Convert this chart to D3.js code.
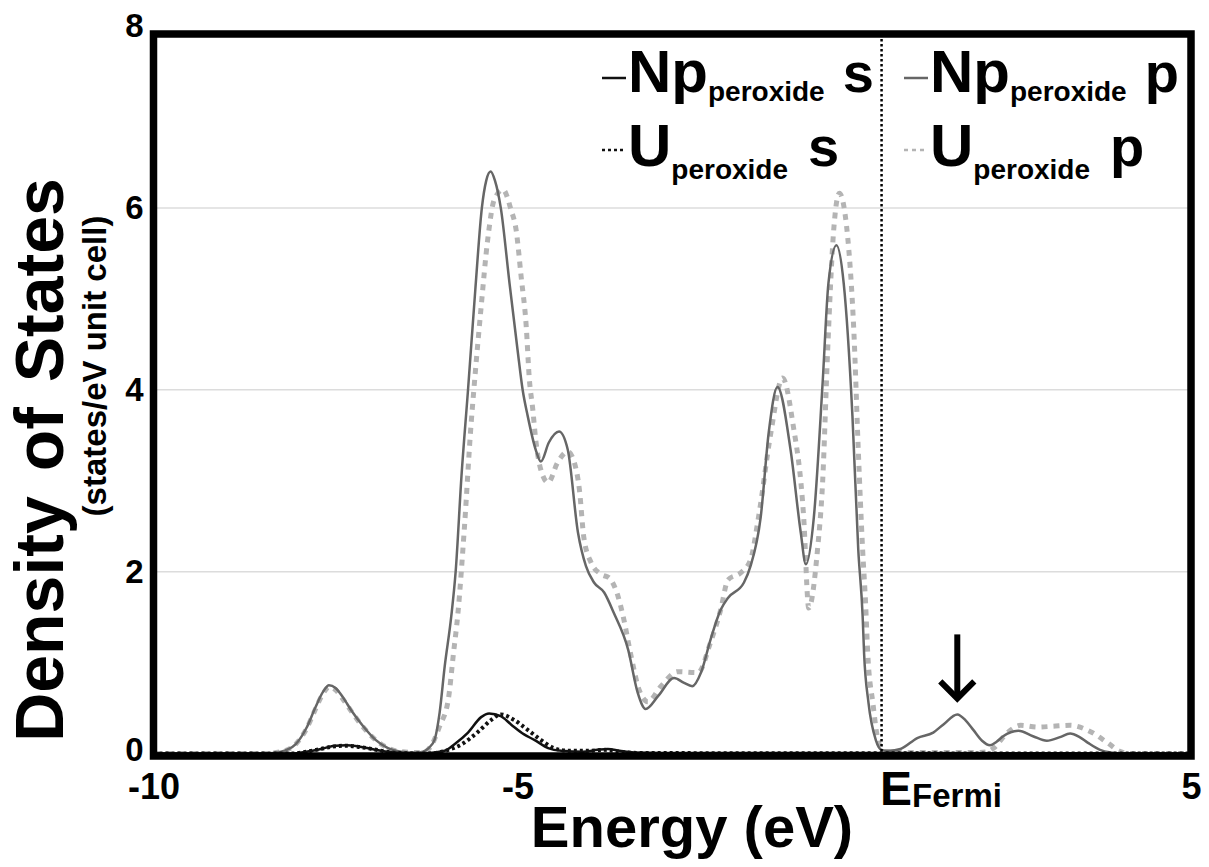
<!DOCTYPE html>
<html><head><meta charset="utf-8">
<script src="https://cdn.jsdelivr.net/npm/d3@7"></script>
<style>
body{margin:0;background:#fff}
text{font-family:"Liberation Sans",Arial,Helvetica,sans-serif;font-weight:bold;fill:#000}
</style>
</head><body>
<svg id="chart" width="1209" height="867"></svg>
<script>
// ---- data ----
const npPEnergy=[-10,-8.45,-8.25,-8.05,-7.9,-7.78,-7.67,-7.59,-7.5,-7.4,-7.28,-7.12,-6.95,-6.78,-6.6,-6.4,-6.3,-6.22,-6.14,-6.07,-6.0,-5.91,-5.85,-5.77,-5.68,-5.58,-5.49,-5.43,-5.37,-5.31,-5.23,-5.11,-5.0,-4.93,-4.86,-4.75,-4.68,-4.57,-4.43,-4.31,-4.17,-4.06,-3.95,-3.81,-3.68,-3.48,-3.35,-3.24,-3.07,-2.85,-2.72,-2.6,-2.48,-2.35,-2.21,-2.11,-1.89,-1.8,-1.66,-1.55,-1.43,-1.25,-1.11,-1.04,-0.93,-0.81,-0.73,-0.62,-0.52,-0.40,-0.32,-0.26,-0.24,-0.18,-0.08,0,0.1,0.26,0.49,0.71,0.85,1.04,1.16,1.26,1.38,1.49,1.58,1.67,1.88,2.08,2.27,2.45,2.59,2.72,2.83,3.0,3.15,3.3,4.25];
const npPDos=[0,0,0.02,0.1,0.28,0.5,0.68,0.75,0.72,0.62,0.47,0.3,0.15,0.06,0.02,0.01,0.02,0.06,0.15,0.45,0.96,1.51,2.0,3.05,4.0,5.1,6.0,6.3,6.4,6.3,6.0,5.17,4.44,4.0,3.71,3.34,3.21,3.42,3.54,3.34,2.43,2.06,1.88,1.77,1.55,1.14,0.67,0.49,0.63,0.83,0.78,0.74,0.89,1.25,1.58,1.71,1.88,2.06,2.6,3.53,4.03,3.34,2.43,2.08,2.6,4.07,5.17,5.59,5.17,3.71,2.24,1.51,1.1,0.56,0.15,0.04,0.03,0.05,0.17,0.23,0.32,0.43,0.36,0.26,0.14,0.09,0.13,0.19,0.25,0.19,0.14,0.18,0.22,0.18,0.12,0.04,0.01,0,0];

const uPEnergy=[-10,-8.45,-8.25,-8.05,-7.9,-7.78,-7.67,-7.59,-7.5,-7.4,-7.28,-7.12,-6.95,-6.78,-6.6,-6.4,-6.27,-6.19,-6.07,-5.95,-5.88,-5.82,-5.73,-5.64,-5.6,-5.5,-5.41,-5.32,-5.2,-5.09,-5.02,-4.95,-4.88,-4.84,-4.79,-4.75,-4.68,-4.58,-4.45,-4.31,-4.22,-4.15,-4.09,-3.99,-3.85,-3.74,-3.62,-3.55,-3.44,-3.33,-3.21,-3.03,-2.8,-2.52,-2.35,-2.21,-2.11,-1.93,-1.8,-1.69,-1.52,-1.36,-1.22,-1.07,-1.0,-0.88,-0.81,-0.74,-0.66,-0.58,-0.45,-0.38,-0.32,-0.26,-0.22,-0.19,-0.12,-0.04,0.05,0.5,1.3,1.45,1.54,1.73,1.91,2.14,2.36,2.59,2.87,3.1,3.28,3.4,4.25];
const uPDos=[0,0,0.02,0.1,0.27,0.48,0.66,0.73,0.7,0.6,0.46,0.29,0.15,0.06,0.02,0.01,0.02,0.08,0.3,0.6,1.1,1.53,2.48,3.6,4.0,4.91,5.65,6.09,6.2,5.98,5.76,5.24,4.69,4.14,3.78,3.45,3.12,2.98,3.2,3.32,3.2,2.9,2.38,2.1,1.97,1.93,1.73,1.51,1.07,0.7,0.57,0.74,0.9,0.89,1.22,1.58,1.91,1.99,2.13,2.6,3.53,4.13,3.64,2.6,1.6,2.24,2.98,4.44,5.73,6.16,5.54,4.63,3.34,2.24,1.66,1.1,0.56,0.12,0.02,0.01,0.01,0.02,0.06,0.23,0.31,0.29,0.3,0.31,0.24,0.12,0.02,0,0];

const npSEnergy=[-10,-8.1,-7.9,-7.7,-7.5,-7.35,-7.2,-7.0,-6.8,-6.6,-6.3,-6.15,-6.0,-5.87,-5.68,-5.5,-5.39,-5.23,-5.09,-4.91,-4.77,-4.58,-4.4,-4.1,-3.9,-3.76,-3.6,-3.4,-3.0,0,4.25];
const npSDos=[0,0,0.02,0.05,0.085,0.09,0.08,0.05,0.02,0.005,0,0.01,0.03,0.1,0.23,0.4,0.44,0.41,0.32,0.21,0.15,0.06,0.03,0.02,0.04,0.05,0.03,0.01,0.005,0.005,0];

const uSEnergy=[-10,-8.1,-7.9,-7.7,-7.5,-7.35,-7.2,-7.0,-6.8,-6.6,-6.3,-6.1,-5.95,-5.77,-5.54,-5.36,-5.23,-5.05,-4.86,-4.68,-4.5,-4.3,-4.0,-3.8,-3.6,-3.3,4.25];
const uSDos=[0,0,0.02,0.05,0.08,0.085,0.075,0.05,0.02,0.005,0,0.01,0.04,0.1,0.24,0.37,0.43,0.37,0.26,0.15,0.06,0.03,0.03,0.04,0.02,0.005,0];

const yTickValues=[0,2,4,6,8];
const xTickValues=[-10,-5,0,4.25];
const xTickLabels=["-10","-5","E","5"];
const fermiSub="Fermi";
const legendMain=["Np","U","Np","U"];
const legendSub=["peroxide","peroxide","peroxide","peroxide"];
const legendOrb=["s","s","p","p"];
const arrowEnergy=1.04, arrowDos=0.43;

// ---- layout ----
const svg=d3.select("#chart");
const L=153.5,R=1191,T=34,B=756;
const x=d3.scaleLinear().domain([-10,4.25]).range([L,R]);
const y=d3.scaleLinear().domain([0,8]).range([753.5,26]);

// gridlines
svg.append("g").selectAll("line").data([2,4,6]).join("line")
  .attr("x1",L).attr("x2",R).attr("y1",d=>y(d)).attr("y2",d=>y(d))
  .attr("stroke","#dcdcdc").attr("stroke-width",1.5);

const line=d3.line().x(d=>x(d[0])).y(d=>y(d[1])).curve(d3.curveMonotoneX);
const zip=(a,b)=>a.map((v,i)=>[v,b[i]]);

const series=[
  {e:uPEnergy,d:uPDos,color:"#b4b4b4",w:5,dash:"6,6"},
  {e:npPEnergy,d:npPDos,color:"#666",w:2.5,dash:null},
  {e:uSEnergy,d:uSDos,color:"#111",w:4,dash:"3,3"},
  {e:npSEnergy,d:npSDos,color:"#111",w:2.5,dash:null}
];
series.forEach(s=>{
  svg.append("path").datum(zip(s.e,s.d)).attr("d",line)
    .attr("fill","none").attr("stroke",s.color).attr("stroke-width",s.w)
    .attr("stroke-dasharray",s.dash);
});

// Fermi level
svg.append("line").attr("x1",x(0)).attr("x2",x(0)).attr("y1",T).attr("y2",B)
  .attr("stroke","#000").attr("stroke-width",2.5).attr("stroke-dasharray","2.5,2.5");

// frame
svg.append("rect").attr("x",L).attr("y",T).attr("width",R-L).attr("height",B-T)
  .attr("fill","none").attr("stroke","#000").attr("stroke-width",7.5);

// y axis
const yAxis=d3.axisLeft(y).tickValues(yTickValues).tickSize(0).tickPadding(10).tickFormat(d3.format("d"));
const gy=svg.append("g").attr("transform",`translate(${L},0)`).call(yAxis);
gy.select(".domain").remove();
gy.selectAll("text").attr("font-size",33).attr("font-family","Liberation Sans, Arial").attr("font-weight","bold").attr("fill","#000");
gy.selectAll(".tick").filter(d=>d===0).select("text").attr("dy","0.2em");

// x axis
const xAxis=d3.axisBottom(x).tickValues(xTickValues).tickSize(0).tickPadding(17).tickFormat((d,i)=>xTickLabels[i]);
const gx=svg.append("g").attr("transform",`translate(0,${B})`).call(xAxis);
gx.select(".domain").remove();
gx.selectAll("text").attr("font-size",36).attr("font-family","Liberation Sans, Arial").attr("font-weight","bold").attr("fill","#000");
gx.selectAll(".tick").filter(d=>d===0).select("text").each(function(){
  const t=d3.select(this);
  t.text(null).attr("text-anchor","start").attr("dy",null).attr("y",49).attr("x",-2);
  t.append("tspan").attr("font-size",48).text(xTickLabels[2]);
  t.append("tspan").attr("font-size",33).attr("dy",2).text(fermiSub);
});

// axis titles
svg.append("text").attr("x",692).attr("y",847).attr("text-anchor","middle").attr("font-size",58).text("Energy (eV)");
svg.append("text").attr("transform","translate(63,460) rotate(-90)").attr("text-anchor","middle").attr("font-size",68).attr("word-spacing",6).text("Density of States");
svg.append("text").attr("transform","translate(106,366) rotate(-90)").attr("text-anchor","middle").attr("font-size",33).text("(states/eV unit cell)");

// legend
const legPos=[{x:628,y:92,ly:78,subDy:9,dx:18,sw:"#111",dash:null},
              {x:628,y:166,ly:150,subDy:13,dx:20,sw:"#111",dash:"3,3"},
              {x:930,y:92,ly:78,subDy:9,dx:18,sw:"#666",dash:null},
              {x:930,y:166,ly:150,subDy:13,dx:20,sw:"#b4b4b4",dash:"4,4"}];
legendMain.forEach((m,i)=>{
  const p=legPos[i];
  svg.append("line").attr("x1",p.x-26).attr("x2",p.x-2).attr("y1",p.ly).attr("y2",p.ly)
    .attr("stroke",p.sw).attr("stroke-width",2.5).attr("stroke-dasharray",p.dash);
  const t=svg.append("text").attr("x",p.x).attr("y",p.y);
  t.append("tspan").attr("font-size",60).text(m);
  t.append("tspan").attr("font-size",28).attr("dy",p.subDy).text(legendSub[i]);
  t.append("tspan").attr("font-size",56).attr("dy",-p.subDy).attr("dx",p.dx).text(legendOrb[i]);
});

// arrow annotation
const ax=x(arrowEnergy), tipY=y(arrowDos)-16;
svg.append("line").attr("x1",ax).attr("x2",ax).attr("y1",tipY-64).attr("y2",tipY-2)
  .attr("stroke","#000").attr("stroke-width",6);
svg.append("polyline").attr("points",`${ax-17},${tipY-17} ${ax},${tipY} ${ax+17},${tipY-17}`)
  .attr("fill","none").attr("stroke","#000").attr("stroke-width",6);
</script>
</body></html>
